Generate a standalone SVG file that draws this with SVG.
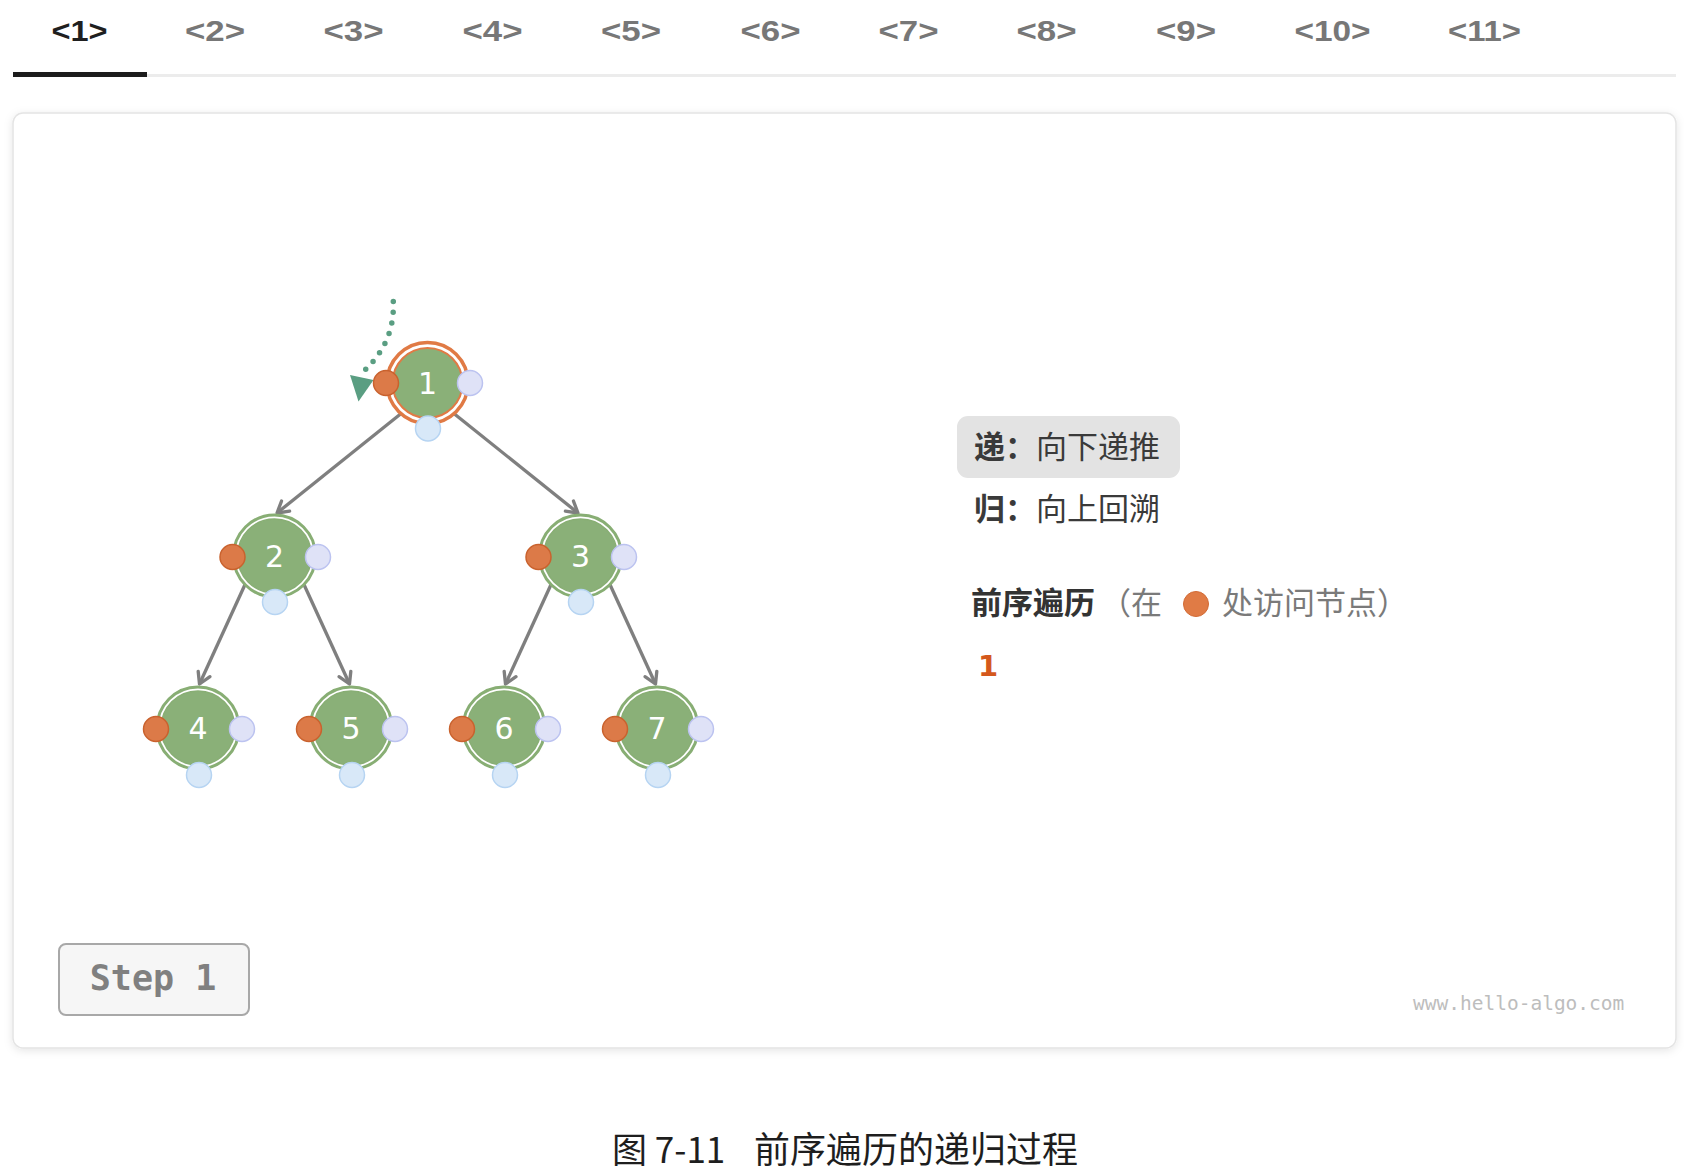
<svg xmlns="http://www.w3.org/2000/svg" width="1684" height="1174" viewBox="0 0 1684 1174">
<style>
.tab{font-family:"Liberation Sans",Arial,sans-serif;font-size:29px;font-weight:700;fill:#777;text-anchor:middle}
.tab.on{fill:#1f1f1f}
.ring{fill:#fff;stroke:#88ae74;stroke-width:3}
.core{fill:#8ab078;stroke:#88ae74;stroke-width:1.5}
.ring.act{stroke:#e07a45;stroke-width:3.5}
.core.act{stroke:#e07a45;stroke-width:2}
.lbl{font-family:"DejaVu Sans",sans-serif;font-size:30px;fill:#fff;text-anchor:middle}
.dl{fill:#dc7a48;stroke:#c9622e;stroke-width:1.5}
.dr{fill:#dfe2f7;stroke:#bcc3f0;stroke-width:1.5}
.db{fill:#d8e8f8;stroke:#b6d4f2;stroke-width:1.5}
.edge{stroke:#7f7f7f;stroke-width:3.3;fill:none;marker-end:url(#arr)}
.cjk{font-family:"Noto Sans CJK SC",sans-serif;font-size:31px}
.mono{font-family:"DejaVu Sans Mono","Liberation Mono",monospace}
</style>
<defs>
<marker id="arr" markerUnits="userSpaceOnUse" markerWidth="18" markerHeight="18" viewBox="0 0 18 18" refX="15" refY="9" orient="auto">
<path d="M4,2.5 L15,9 L4,15.5" fill="none" stroke="#7f7f7f" stroke-width="3.3" stroke-linejoin="round" stroke-linecap="round"/>
</marker>
<filter id="sh" x="-5%" y="-5%" width="110%" height="110%">
<feDropShadow dx="0" dy="2" stdDeviation="4" flood-color="#000" flood-opacity="0.10"/>
</filter>
</defs>
<rect width="1684" height="1174" fill="#fff"/>

<g id="tabs">
<text class="tab on" x="79.5" y="40.5" textLength="56" lengthAdjust="spacingAndGlyphs">&lt;1&gt;</text>
<text class="tab" x="215" y="40.5" textLength="60" lengthAdjust="spacingAndGlyphs">&lt;2&gt;</text>
<text class="tab" x="353.5" y="40.5" textLength="60" lengthAdjust="spacingAndGlyphs">&lt;3&gt;</text>
<text class="tab" x="492.5" y="40.5" textLength="60" lengthAdjust="spacingAndGlyphs">&lt;4&gt;</text>
<text class="tab" x="631" y="40.5" textLength="60" lengthAdjust="spacingAndGlyphs">&lt;5&gt;</text>
<text class="tab" x="770.5" y="40.5" textLength="60" lengthAdjust="spacingAndGlyphs">&lt;6&gt;</text>
<text class="tab" x="908.5" y="40.5" textLength="60" lengthAdjust="spacingAndGlyphs">&lt;7&gt;</text>
<text class="tab" x="1046.5" y="40.5" textLength="60" lengthAdjust="spacingAndGlyphs">&lt;8&gt;</text>
<text class="tab" x="1186" y="40.5" textLength="60" lengthAdjust="spacingAndGlyphs">&lt;9&gt;</text>
<text class="tab" x="1332.5" y="40.5" textLength="76" lengthAdjust="spacingAndGlyphs">&lt;10&gt;</text>
<text class="tab" x="1484.5" y="40.5" textLength="73" lengthAdjust="spacingAndGlyphs">&lt;11&gt;</text>
<rect x="13" y="74" width="1663" height="3" fill="#ececec"/>
<rect x="13" y="72" width="134" height="5" fill="#1c1c1c"/>
</g>

<rect id="card" x="13" y="113" width="1663" height="935" rx="10" fill="#fff" stroke="#e4e4e4" stroke-width="1.5" filter="url(#sh)"/>

<g id="connectors">
<line class="edge" x1="403" y1="412" x2="277" y2="513"/>
<line class="edge" x1="452" y1="412" x2="578" y2="513"/>
<line class="edge" x1="245.5" y1="583.5" x2="199.5" y2="684"/>
<line class="edge" x1="303.5" y1="583.5" x2="349.5" y2="684"/>
<line class="edge" x1="551.5" y1="583.5" x2="505.5" y2="684"/>
<line class="edge" x1="609.5" y1="583.5" x2="655.5" y2="684"/>
<path d="M393.3,301.5 C394.5,330 384,352 364,371" fill="none" stroke="#5a9e82" stroke-width="5.5" stroke-linecap="round" stroke-dasharray="0 10.8"/>
<polygon points="350,375 358.5,401.5 373.5,380" fill="#5a9e82"/>
</g>

<g id="node1">
<circle class="ring act" cx="427.5" cy="383" r="40.5"/>
<circle class="core act" cx="427.5" cy="383" r="35"/>
<text class="lbl" x="427.5" y="393.5">1</text>
<circle class="dl" cx="386" cy="383" r="12.5"/>
<circle class="dr" cx="470" cy="383" r="12.5"/>
<circle class="db" cx="428" cy="428.5" r="12.5"/>
</g>
<g id="node2">
<circle class="ring" cx="274.5" cy="556" r="41"/>
<circle class="core" cx="274.5" cy="556" r="37"/>
<text class="lbl" x="274.5" y="566.5">2</text>
<circle class="dl" cx="232.5" cy="557" r="12.5"/>
<circle class="dr" cx="318" cy="557" r="12.5"/>
<circle class="db" cx="275" cy="602" r="12.5"/>
</g>
<g id="node3">
<circle class="ring" cx="580.5" cy="556" r="41"/>
<circle class="core" cx="580.5" cy="556" r="37"/>
<text class="lbl" x="580.5" y="566.5">3</text>
<circle class="dl" cx="538.5" cy="557" r="12.5"/>
<circle class="dr" cx="624" cy="557" r="12.5"/>
<circle class="db" cx="581" cy="602" r="12.5"/>
</g>
<g id="node4">
<circle class="ring" cx="198" cy="728" r="41"/>
<circle class="core" cx="198" cy="728" r="37"/>
<text class="lbl" x="198" y="738.5">4</text>
<circle class="dl" cx="156" cy="729" r="12.5"/>
<circle class="dr" cx="242" cy="729" r="12.5"/>
<circle class="db" cx="199" cy="775" r="12.5"/>
</g>
<g id="node5">
<circle class="ring" cx="351" cy="728" r="41"/>
<circle class="core" cx="351" cy="728" r="37"/>
<text class="lbl" x="351" y="738.5">5</text>
<circle class="dl" cx="309" cy="729" r="12.5"/>
<circle class="dr" cx="395" cy="729" r="12.5"/>
<circle class="db" cx="352" cy="775" r="12.5"/>
</g>
<g id="node6">
<circle class="ring" cx="504" cy="728" r="41"/>
<circle class="core" cx="504" cy="728" r="37"/>
<text class="lbl" x="504" y="738.5">6</text>
<circle class="dl" cx="462" cy="729" r="12.5"/>
<circle class="dr" cx="548" cy="729" r="12.5"/>
<circle class="db" cx="505" cy="775" r="12.5"/>
</g>
<g id="node7">
<circle class="ring" cx="657" cy="728" r="41"/>
<circle class="core" cx="657" cy="728" r="37"/>
<text class="lbl" x="657" y="738.5">7</text>
<circle class="dl" cx="615" cy="729" r="12.5"/>
<circle class="dr" cx="701" cy="729" r="12.5"/>
<circle class="db" cx="658" cy="775" r="12.5"/>
</g>

<g id="legend">
<rect x="957" y="416" width="223" height="62" rx="11" fill="#e3e3e3"/>
<text class="cjk" x="974" y="458" fill="#3a3a3a"><tspan font-weight="700">递：</tspan>向下递推</text>
<text class="cjk" x="974" y="520" fill="#3a3a3a"><tspan font-weight="700">归：</tspan>向上回溯</text>
<text class="cjk" x="971" y="614" fill="#333" font-weight="700">前序遍历</text>
<text class="cjk" x="1100" y="614" fill="#7a7a7a">（在</text>
<circle cx="1196" cy="604" r="12.5" fill="#e07b45" stroke="#d26a34" stroke-width="1"/>
<text class="cjk" x="1222" y="614" fill="#7a7a7a">处访问节点）</text>
<text x="978" y="676" font-family="DejaVu Sans,sans-serif" font-weight="700" font-size="29" fill="#d4581c">1</text>
</g>

<g id="step">
<rect x="59" y="944" width="190" height="71" rx="7" fill="#f6f6f6" stroke="#a8a8a8" stroke-width="2"/>
<text class="mono" x="153" y="990" font-size="35" font-weight="700" fill="#808080" text-anchor="middle">Step 1</text>
</g>
<text class="mono" x="1413" y="1010" font-size="19.5" fill="#bdbdbd">www.hello-algo.com</text>
<text x="612" y="1163" font-family="Noto Sans CJK SC,sans-serif" font-size="35" fill="#1e1e1e">图 7-11<tspan x="754" font-size="36">前序遍历的递归过程</tspan></text>
</svg>
